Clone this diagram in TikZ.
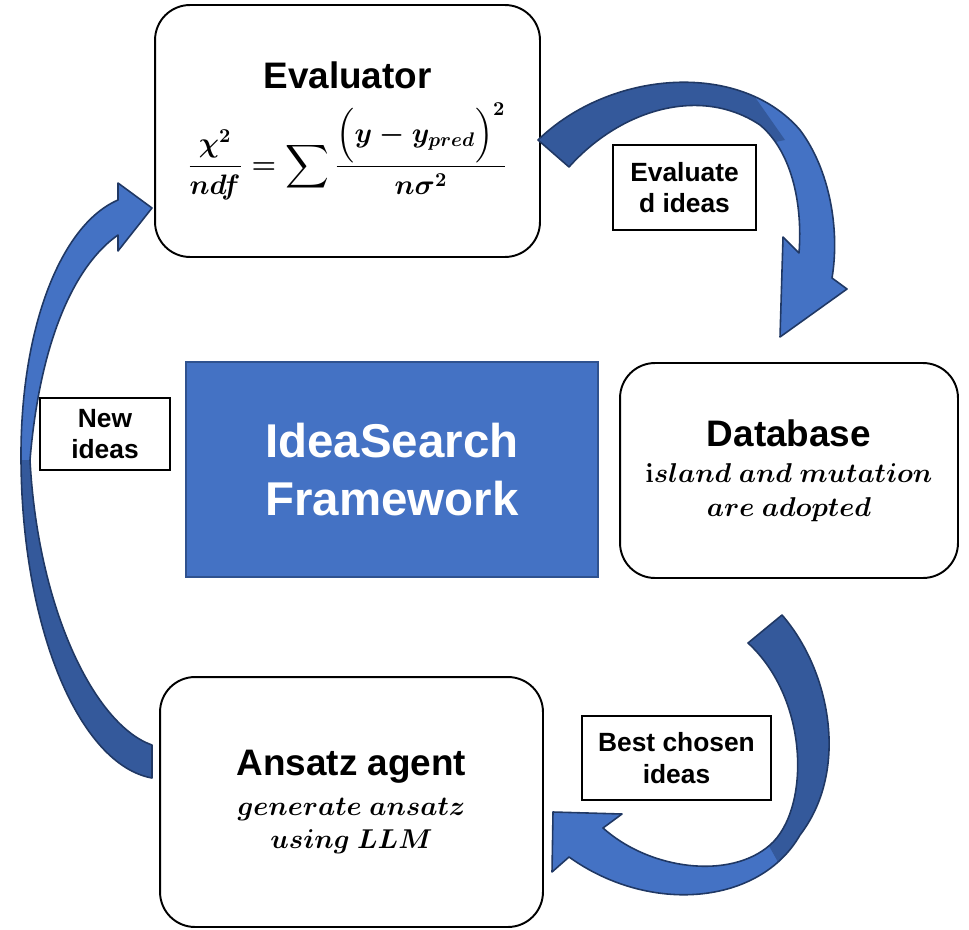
\RequirePackage{fix-cm}
\documentclass[tikz,border=0pt]{standalone}
\usepackage{amsmath}
\usepackage[no-math]{fontspec}
\setmainfont{Liberation Sans}
\usetikzlibrary{positioning}

\definecolor{ideaBlue}{HTML}{4472C4}
\definecolor{ideaDark}{HTML}{34599B}
\definecolor{ideaEdge}{HTML}{203864}
\definecolor{ideaFrame}{HTML}{2F528F}

\begin{document}
\begin{tikzpicture}[x=0.02cm, y=-0.02cm,
        % scatole arrotondate principali
        stage/.style={
            draw,
            line width=1.1pt,
            rounded corners=0.7cm,
            fill=white,
            align=center,
            inner sep=0pt,
            font=\fontsize{15.5}{19}\selectfont
        },
        % etichette delle frecce
        tag/.style={
            draw,
            line width=0.8pt,
            fill=white,
            align=center,
            inner sep=0pt,
            font=\fontsize{15}{18}\selectfont\bfseries
        },
        % frecce curve a blocco
        band/.style={fill=ideaBlue},
        bandback/.style={fill=ideaDark},
        bandrim/.style={draw=ideaEdge, line width=0.9pt, line join=round},
    ]
    \useasboundingbox (0,0) rectangle (969,929);

    \node[stage, minimum width=7.7cm, minimum height=5.04cm] (evaluator) at (347.5,131)
        {{\bfseries\fontsize{21}{25}\selectfont Evaluator}\\[7pt]
         {\fontsize{16}{19}\selectfont\boldmath$\displaystyle\frac{\chi^2}{ndf}=\sum\frac{\Big(y-y_{pred}\Big)^2}{n\sigma^2}$}};
    \node[stage, minimum width=6.76cm, minimum height=4.3cm] (database) at (789,470.5)
        {{\bfseries\fontsize{21}{25}\selectfont Database}\\[2pt]
         {\boldmath$\mathrm{i}sland\ and\ mutation$}\\
         {\boldmath$are\ adopted$}};
    \node[stage, minimum width=7.66cm, minimum height=5cm] (ansatz) at (351.5,802)
        {{\bfseries\fontsize{21}{25}\selectfont Ansatz agent}\\[4pt]
         {\boldmath$generate\ ansatz$}\\
         {\boldmath$using\ LLM$}};
    \node[draw=ideaFrame, fill=ideaBlue, line width=1pt, minimum width=8.24cm, minimum height=4.3cm,
          text=white, align=center, font=\fontsize{27}{33}\selectfont\bfseries] (framework) at (392,469.5)
        {IdeaSearch\\Framework};

    % freccia: New ideas
    \path[save path=\newband] (152,778) -- (152,745)
        .. controls (95,725) and (38,610) .. (30,460)
        .. controls (40,340) and (75,265) .. (118,235)
        -- (118,251) -- (152,208) -- (118,183) -- (118,200)
        .. controls (60,225) and (20,330) .. (21,460)
        .. controls (22,630) and (80,765) .. (152,778) -- cycle;
    \fill[band, use path=\newband];
    \begin{scope}
        \clip (0,460) rectangle (200,800);
        \fill[bandback, use path=\newband];
    \end{scope}
    \draw[bandrim, use path=\newband];

    % freccia: Evaluated ideas
    \path[save path=\evalband] (538,140)
        .. controls (610,70) and (740,60) .. (800,130)
        .. controls (830,170) and (840,230) .. (832,278)
        -- (847,289) -- (780,337) -- (783,237) -- (799,253)
        .. controls (803,200) and (790,150) .. (760,125)
        .. controls (700,85) and (620,110) .. (569,167) -- cycle;
    \fill[band, use path=\evalband];
    \begin{scope}
        \clip (500,40) -- (715,40) -- (785,140) -- (500,200) -- cycle;
        \fill[bandback, use path=\evalband];
    \end{scope}
    \draw[bandrim, use path=\evalband];

    % freccia: Best chosen ideas
    \path[save path=\bestband] (782,615)
        .. controls (830,670) and (850,770) .. (800,835)
        .. controls (760,905) and (650,915) .. (569,857)
        -- (552,872) -- (553,812) -- (622,814) -- (603,828)
        .. controls (650,870) and (730,880) .. (770,845)
        .. controls (810,810) and (810,700) .. (748,643) -- cycle;
    \fill[band, use path=\bestband];
    \begin{scope}
        \clip (745,580) -- (900,580) -- (900,910) -- (805,910) -- (760,830) -- cycle;
        \fill[bandback, use path=\bestband];
    \end{scope}
    \draw[bandrim, use path=\bestband];

    \node[tag, minimum width=2.86cm, minimum height=1.7cm] (evalTag) at (684.5,187.5) {Evaluate\\d ideas};
    \node[tag, minimum width=2.6cm, minimum height=1.44cm] (newTag) at (105,434) {New\\ideas};
    \node[tag, minimum width=3.78cm, minimum height=1.68cm] (bestTag) at (676.5,758) {Best chosen\\ideas};

\end{tikzpicture}
\end{document}
